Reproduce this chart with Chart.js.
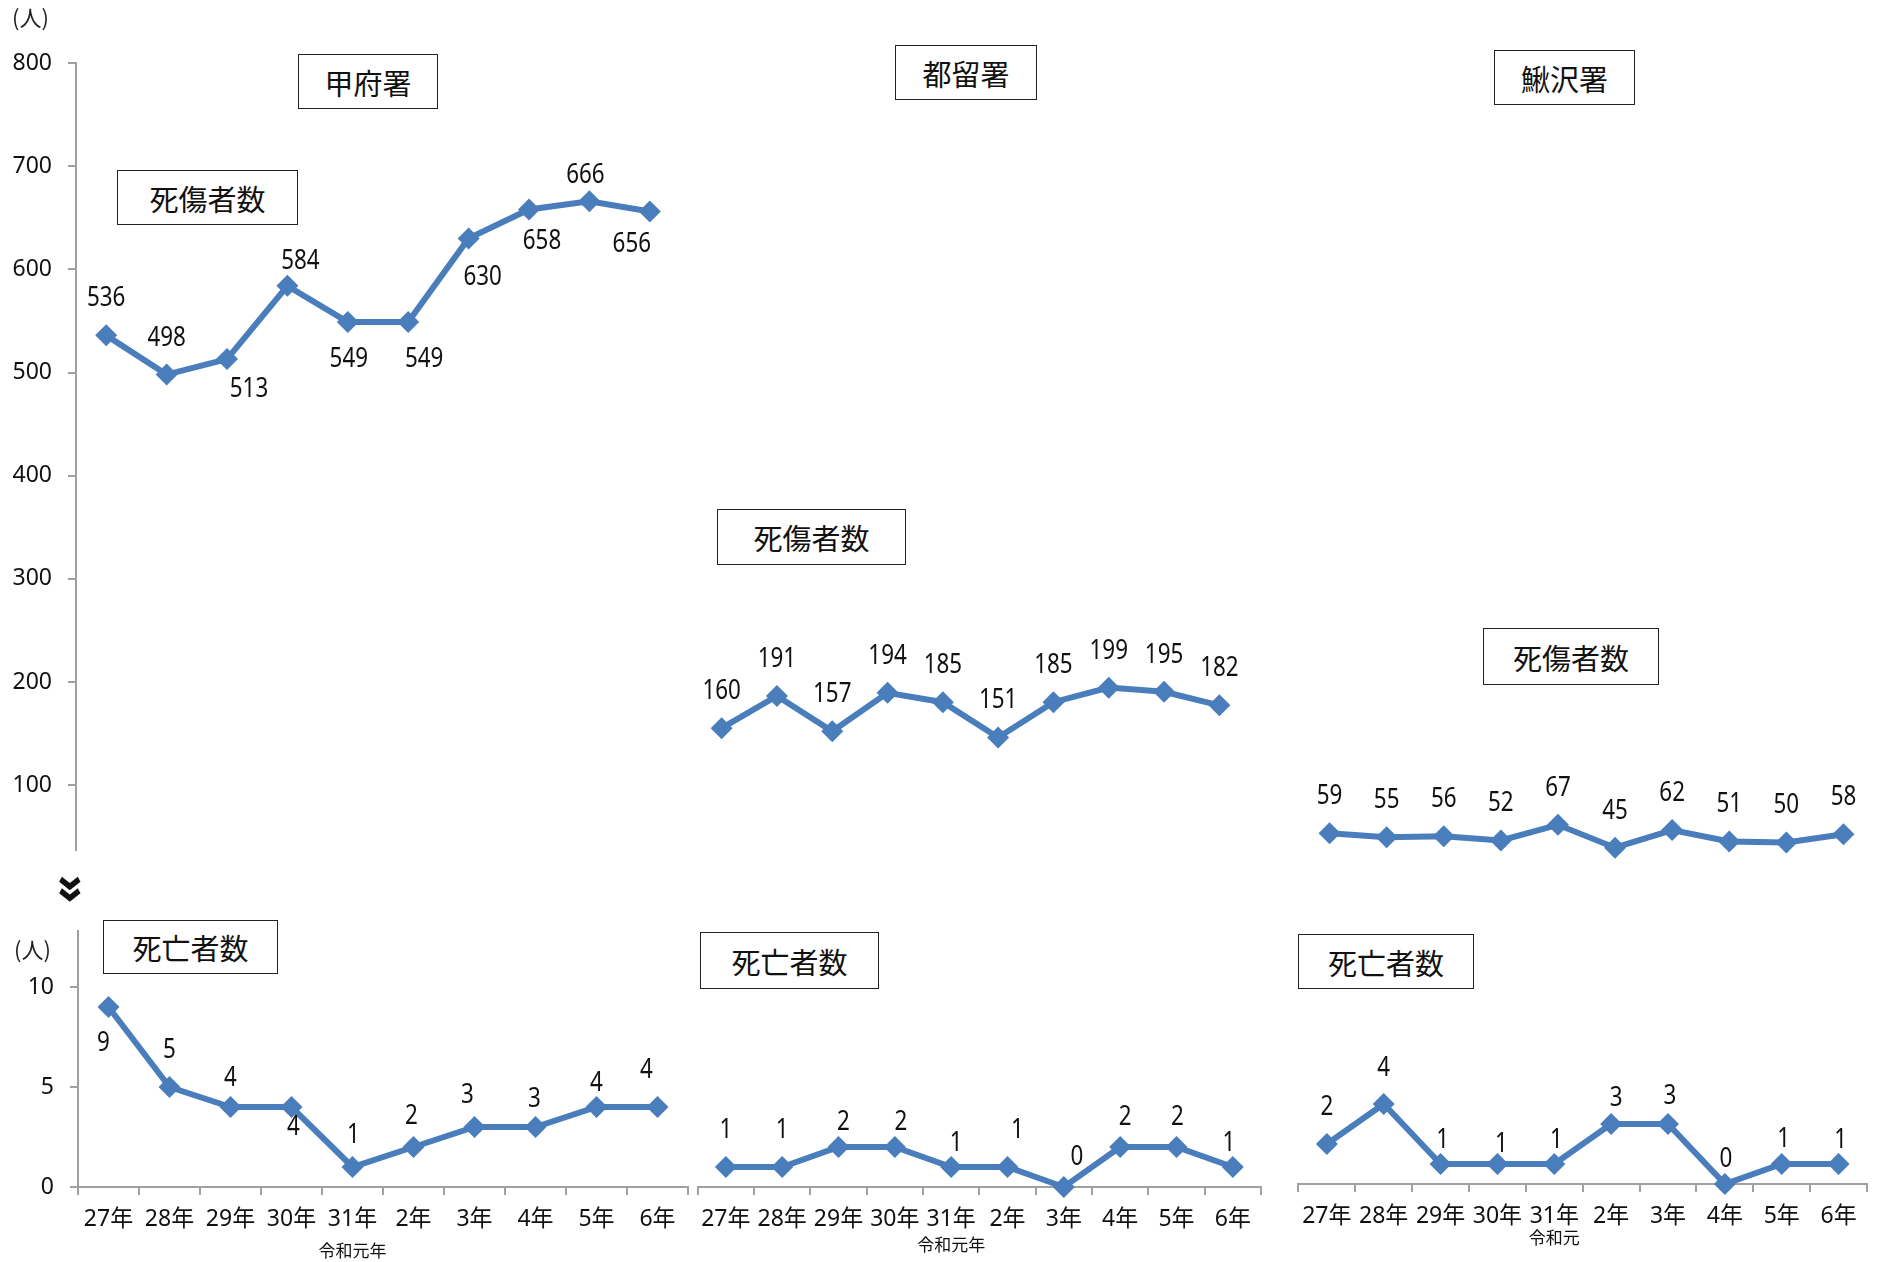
<!DOCTYPE html>
<html lang="ja">
<head>
<meta charset="utf-8">
<script src="https://cdn.jsdelivr.net/npm/chart.js@4.4.1/dist/chart.umd.min.js"></script>
<style>
  body { margin: 0; background: #fff; }
  #stage { position: relative; width: 1877px; height: 1262px; overflow: hidden; font-family: "Noto Sans CJK JP", sans-serif; }
  canvas { position: absolute; }
  .box { position: absolute; border: 1.5px solid #222; background: #fff; box-sizing: border-box;
         display: flex; align-items: center; justify-content: center; font-size: 29px; color: #111; }
  .unit { position: absolute; font-size: 22px; color: #222; line-height: 1; }
  .brk { position: absolute; width: 30px; height: 30px; display: flex; align-items: center; justify-content: center;
         font-family: "Noto Sans", sans-serif; font-size: 46px; font-weight: bold; color: #111;
         transform: rotate(90deg); line-height: 1; }
</style>
</head>
<body>
<div id="stage">
  <canvas id="top1" width="690" height="880" style="left:0;top:0"></canvas>
  <canvas id="top2" width="561" height="880" style="left:690px;top:0"></canvas>
  <canvas id="top3" width="577" height="880" style="left:1297px;top:0"></canvas>
  <canvas id="bot1" width="692" height="362" style="left:0;top:900px"></canvas>
  <canvas id="bot2" width="575" height="362" style="left:690px;top:900px"></canvas>
  <canvas id="bot3" width="580" height="365" style="left:1291px;top:897px"></canvas>

  <div class="unit" style="left:12px;top:5px">(人)</div>
  <div class="unit" style="left:14px;top:937px">(人)</div>
  <div class="brk" style="left:60px;top:874px">»</div>

  <div class="box" style="left:298px;top:54px;width:140px;height:55px">甲府署</div>
  <div class="box" style="left:895px;top:45px;width:142px;height:55px">都留署</div>
  <div class="box" style="left:1494px;top:50px;width:141px;height:55px">鰍沢署</div>
  <div class="box" style="left:117px;top:170px;width:181px;height:55px">死傷者数</div>
  <div class="box" style="left:717px;top:509px;width:189px;height:56px">死傷者数</div>
  <div class="box" style="left:1483px;top:628px;width:176px;height:57px">死傷者数</div>
  <div class="box" style="left:103px;top:920px;width:175px;height:54px">死亡者数</div>
  <div class="box" style="left:700px;top:932px;width:179px;height:57px">死亡者数</div>
  <div class="box" style="left:1298px;top:934px;width:176px;height:55px">死亡者数</div>
</div>
<script>
// Categories
const years = ['27年', '28年', '29年', '30年', '31年', '2年', '3年', '4年', '5年', '6年'];
const eraNote = ['', '', '', '', '令和元年', '', '', '', '', ''];
const eraNoteShort = ['', '', '', '', '令和元', '', '', '', '', ''];

// 死傷者数
const kofuInjured = [536, 498, 513, 584, 549, 549, 630, 658, 666, 656];
const tsuruInjured = [160, 191, 157, 194, 185, 151, 185, 199, 195, 182];
const kajikazawaInjured = [59, 55, 56, 52, 67, 45, 62, 51, 50, 58];

// 死亡者数
const kofuDeaths = [9, 5, 4, 4, 1, 2, 3, 3, 4, 4];
const tsuruDeaths = [1, 1, 2, 2, 1, 1, 0, 2, 2, 1];
const kajikazawaDeaths = [2, 4, 1, 1, 1, 3, 3, 0, 1, 1];

// Tick values
const injuredTicks = [100, 200, 300, 400, 500, 600, 700, 800];
const deathTicks = [0, 5, 10];

// where each value label sits relative to its point [dx, dy]
const kofuInjuredLabelPos = [[0, -37], [0, -37], [22, 30], [13, -25], [1, 37], [16, 37], [14, 39], [13, 32], [-4, -26], [-18, 32]];
const kofuDeathLabelPos = [[-5, 36], [0, -37], [0, -29], [2, 20], [1, -32], [-2, -31], [-7, -32], [-1, -28], [0, -24], [-11, -37]];
const tsuruDeathLabelPos = [[0, -37], [0, -37], [5, -25], [6, -25], [5, -24], [10, -37], [13, -30], [5, -30], [1, -30], [-4, -24]];
const kajikazawaDeathLabelPos = [[0, -37], [0, -36], [2, -24], [4, -20], [2, -24], [5, -26], [2, -28], [1, -25], [2, -25], [2, -24]];

const lineBlue = '#4a7dbb';
const axisGray = '#a0a0a0';
const labelFont = '"Noto Sans", "Noto Sans CJK JP", sans-serif';

Chart.defaults.font.family = labelFont;

// Draws the value next to every point (squeezed a bit, like the original's narrow face),
// plus the era note under the x labels
function labelPlugin(labelPos, notes, noteDy) {
    return {
        id: 'valueLabels',
        afterDatasetsDraw(chart) {
            const ctx = chart.ctx;
            const meta = chart.getDatasetMeta(0);
            const values = chart.data.datasets[0].data;
            ctx.save();
            ctx.fillStyle = '#111';
            ctx.textAlign = 'center';
            ctx.textBaseline = 'middle';
            ctx.font = '28px ' + labelFont;
            meta.data.forEach((pt, i) => {
                const off = labelPos ? labelPos[i] : [0, -37];
                ctx.save();
                ctx.translate(pt.x + off[0], pt.y + off[1]);
                ctx.scale(0.8, 1);
                ctx.fillText(String(values[i]), 0, 0);
                ctx.restore();
            });
            if (notes) {
                ctx.font = '17px "Noto Sans CJK JP", sans-serif';
                const xScale = chart.scales.x;
                notes.forEach((txt, i) => {
                    if (!txt) return;
                    ctx.fillText(txt, xScale.getPixelForValue(i), chart.chartArea.bottom + noteDy);
                });
            }
            ctx.restore();
        }
    };
}

function makePanel(id, p) {
    const ctx = document.getElementById(id).getContext('2d');
    return new Chart(ctx, {
        type: 'line',
        data: {
            labels: years,
            datasets: [{
                data: p.values,
                borderColor: lineBlue,
                backgroundColor: lineBlue,
                borderWidth: 6,
                pointStyle: 'rectRot',
                pointRadius: 11,
                pointBorderWidth: 0,
                tension: 0,
                clip: false
            }]
        },
        options: {
            responsive: false,
            animation: false,
            devicePixelRatio: 1,
            layout: { padding: p.padding, autoPadding: false },
            plugins: { legend: { display: false }, tooltip: { enabled: false } },
            scales: {
                x: {
                    display: p.showX,
                    offset: true,
                    afterFit: s => { if (p.showX) s.height = 75; },
                    border: { color: axisGray, width: 2 },
                    grid: { offset: true, drawOnChartArea: false, tickLength: 8, color: axisGray, lineWidth: 2 },
                    ticks: { font: { size: 23 }, color: '#111', padding: 11, maxRotation: 0, autoSkip: false }
                },
                y: {
                    display: p.showY,
                    min: p.yMin,
                    max: p.yMax,
                    afterBuildTicks: s => { s.ticks = p.ticks.map(v => ({ value: v })); },
                    afterFit: s => { if (p.showY) s.width = p.yWidth; },
                    border: { color: axisGray, width: 2 },
                    grid: { drawOnChartArea: false, tickLength: 8, color: axisGray, lineWidth: 2 },
                    ticks: { font: { size: 23 }, color: '#111', padding: 16 }
                }
            }
        },
        plugins: [labelPlugin(p.labelPos, p.notes, p.noteDy)]
    });
}

// 死傷者数 row
makePanel('top1', { values: kofuInjured, showX: false, showY: true, yMin: 37, yMax: 800, ticks: injuredTicks, yWidth: 76,
    padding: { top: 63, bottom: 24, left: 0, right: 10 }, labelPos: kofuInjuredLabelPos });
makePanel('top2', { values: tsuruInjured, showX: false, showY: false, yMin: 37, yMax: 800, ticks: injuredTicks,
    padding: { top: 63, bottom: 24, left: 4, right: 4 } });
makePanel('top3', { values: kajikazawaInjured, showX: false, showY: false, yMin: 37, yMax: 800, ticks: injuredTicks,
    padding: { top: 63, bottom: 24, left: 4, right: 2 } });

// 死亡者数 row
makePanel('bot1', { values: kofuDeaths, showX: true, showY: true, yMin: 0, yMax: 12.8, ticks: deathTicks, yWidth: 78,
    padding: { top: 31, bottom: 0, left: 0, right: 4 }, labelPos: kofuDeathLabelPos, notes: eraNote, noteDy: 64 });
makePanel('bot2', { values: tsuruDeaths, showX: true, showY: false, yMin: 0, yMax: 12.8, ticks: deathTicks,
    padding: { top: 31, bottom: 0, left: 4, right: 4 }, labelPos: tsuruDeathLabelPos, notes: eraNote, noteDy: 58 });
makePanel('bot3', { values: kajikazawaDeaths, showX: true, showY: false, yMin: 0, yMax: 12.8, ticks: deathTicks,
    padding: { top: 31, bottom: 3, left: 4, right: 4 }, labelPos: kajikazawaDeathLabelPos, notes: eraNoteShort, noteDy: 54 });
</script>
</body>
</html>
